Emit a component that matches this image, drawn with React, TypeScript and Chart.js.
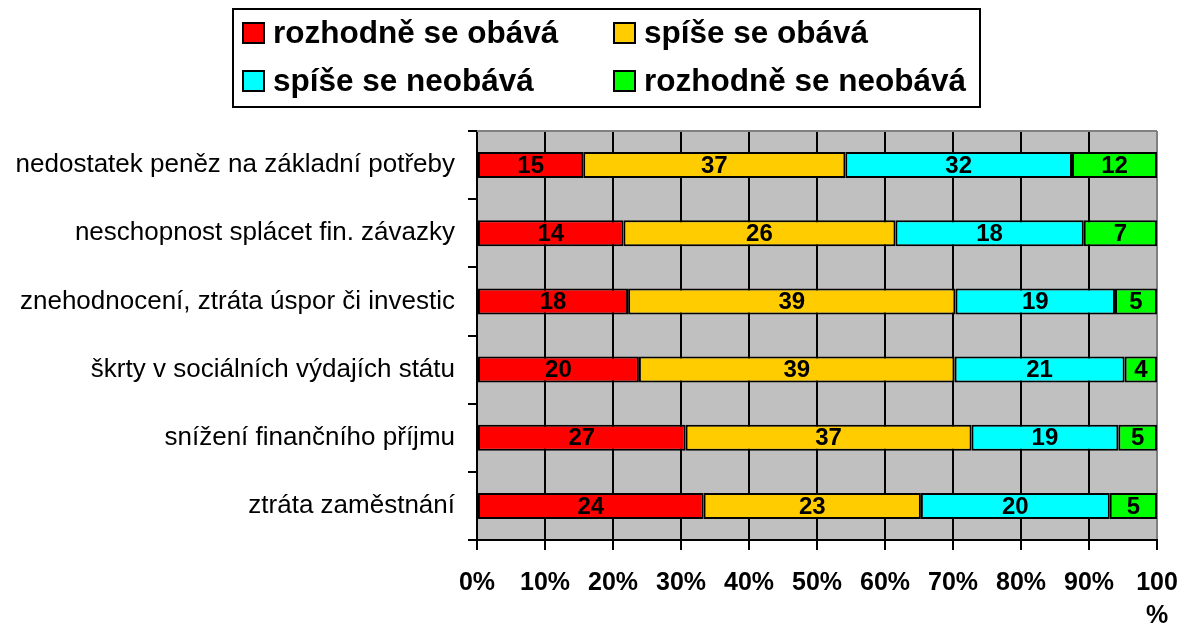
import React, { useEffect, useRef } from 'react';
import { Chart, registerables } from 'chart.js';

Chart.register(...registerables);

const categories = [
  'nedostatek peněz na základní potřeby',
  'neschopnost splácet fin. závazky',
  'znehodnocení, ztráta úspor či investic',
  'škrty v sociálních výdajích státu',
  'snížení finančního příjmu',
  'ztráta zaměstnání',
];
const seriesNames = ['rozhodně se obává', 'spíše se obává', 'spíše se neobává', 'rozhodně se neobává'];
const seriesColors = ['#FF0000', '#FFCC00', '#00FFFF', '#00FF00'];
const strongConcern = [15, 14, 18, 20, 27, 24];
const ratherConcern = [37, 26, 39, 39, 37, 23];
const ratherNoConcern = [32, 18, 19, 21, 19, 20];
const strongNoConcern = [12, 7, 5, 4, 5, 5];
const seriesValues = [strongConcern, ratherConcern, ratherNoConcern, strongNoConcern];

const FONT = '"Liberation Sans", Arial, Helvetica, sans-serif';

const rowTotals = categories.map((_, i) => seriesValues.reduce((s, arr) => s + arr[i], 0));

const plotBgPlugin = {
  id: 'plotBg',
  beforeDraw(chart: any) {
    const { ctx, chartArea } = chart;
    ctx.save();
    ctx.fillStyle = '#C0C0C0';
    ctx.fillRect(chartArea.left, chartArea.top, chartArea.right - chartArea.left, chartArea.bottom - chartArea.top);
    ctx.restore();
  },
  beforeDatasetsDraw(chart: any) {
    const { ctx, chartArea } = chart;
    ctx.save();
    ctx.strokeStyle = '#808080';
    ctx.lineWidth = 2;
    ctx.beginPath();
    ctx.moveTo(chartArea.left, chartArea.top);
    ctx.lineTo(chartArea.right, chartArea.top);
    ctx.stroke();
    ctx.restore();
  },
};

const valueLabelPlugin = {
  id: 'valueLabels',
  afterDatasetsDraw(chart: any) {
    const { ctx } = chart;
    ctx.save();
    ctx.font = `bold 24px ${FONT}`;
    ctx.fillStyle = '#000';
    ctx.textAlign = 'center';
    ctx.textBaseline = 'middle';
    chart.data.datasets.forEach((ds: any, di: number) => {
      const meta = chart.getDatasetMeta(di);
      meta.data.forEach((el: any, i: number) => {
        const raw = ds.rawValues[i];
        const cx = (el.x + el.base) / 2;
        ctx.fillText(String(raw), cx, el.y + 1);
      });
    });
    ctx.restore();
  },
};

const legendPlugin = {
  id: 'boxLegend',
  afterDraw(chart: any) {
    const { ctx } = chart;
    ctx.save();
    ctx.strokeStyle = '#000';
    ctx.lineWidth = 2;
    ctx.strokeRect(233, 9, 747, 98);
    const colX = [243, 614];
    const rowY = [33, 81];
    ctx.font = `bold 31.5px ${FONT}`;
    ctx.textBaseline = 'middle';
    ctx.textAlign = 'left';
    chart.data.datasets.forEach((ds: any, i: number) => {
      const x = colX[i % 2];
      const y = rowY[Math.floor(i / 2)];
      ctx.fillStyle = ds.backgroundColor;
      ctx.fillRect(x, y - 10, 21, 20);
      ctx.strokeStyle = '#000';
      ctx.lineWidth = 2;
      ctx.strokeRect(x, y - 10, 21, 20);
      ctx.fillStyle = '#000';
      ctx.fillText(ds.label, x + 30, y + 1);
    });
    ctx.restore();
  },
};

export default function App() {
  const canvasRef = useRef<HTMLCanvasElement | null>(null);

  useEffect(() => {
    if (!canvasRef.current) return;
    const datasets = seriesValues.map((vals, si) => ({
      label: seriesNames[si],
      data: vals.map((v, i) => (v / rowTotals[i]) * 100),
      rawValues: vals,
      backgroundColor: seriesColors[si],
      borderColor: '#000',
      borderWidth: 2,
      borderSkipped: false,
      categoryPercentage: 1,
      barPercentage: 0.382,
    }));
    const chart = new Chart(canvasRef.current, {
      type: 'bar',
      data: { labels: categories, datasets: datasets as any },
      options: {
        indexAxis: 'y',
        animation: false,
        responsive: false,
        devicePixelRatio: 1,
        layout: { padding: { top: 131, left: 0, right: 30, bottom: 0 } },
        plugins: {
          legend: { display: false },
          tooltip: { enabled: false },
        },
        scales: {
          x: {
            stacked: true,
            min: 0,
            max: 100,
            ticks: {
              stepSize: 10,
              color: '#000',
              font: { family: FONT, size: 25, weight: 'bold', lineHeight: 1.3 },
              padding: 17,
              maxRotation: 0,
              autoSkip: false,
              callback: (v: any) => (Number(v) === 100 ? ['100', '%'] : `${v}%`),
            },
            grid: {
              color: (c: any) => (c.index === 10 ? '#808080' : '#000'),
              tickColor: '#000',
              lineWidth: 2,
              tickLength: 10,
              drawTicks: true,
            },
            border: { display: true, color: '#000', width: 2 },
            afterFit: (scale: any) => {
              scale.height = 85;
              scale.paddingLeft = 0;
              scale.paddingRight = 0;
            },
          },
          y: {
            stacked: true,
            ticks: {
              color: '#000',
              font: { family: FONT, size: 26 },
              padding: 13,
              autoSkip: false,
            },
            grid: {
              offset: true,
              drawOnChartArea: false,
              drawTicks: true,
              tickLength: 9,
              color: '#000',
              lineWidth: 2,
            },
            border: { display: true, color: '#000', width: 2 },
            afterFit: (scale: any) => {
              scale.width = 477;
              scale.paddingTop = 0;
              scale.paddingBottom = 0;
            },
          },
        },
      } as any,
      plugins: [plotBgPlugin, valueLabelPlugin, legendPlugin],
    });
    return () => chart.destroy();
  }, []);

  return (
    <div style={{ position: 'absolute', left: 0, top: 0, width: 1187, height: 625, background: '#fff' }}>
      <canvas ref={canvasRef} width={1187} height={625} style={{ display: 'block', width: 1187, height: 625 }} />
    </div>
  );
}
